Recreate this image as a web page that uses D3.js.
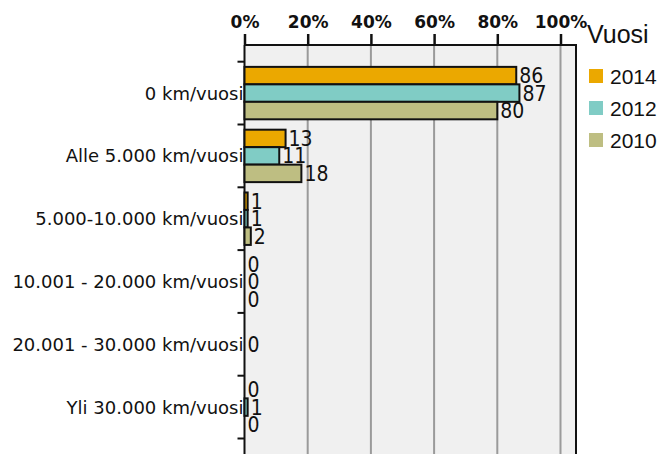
<!DOCTYPE html>
<html><head><meta charset="utf-8">
<script src="https://cdn.jsdelivr.net/npm/d3@7/dist/d3.min.js"></script>
<style>
html,body{margin:0;padding:0;background:#fff;}
svg{display:block;}
</style></head>
<body>
<svg id="chart" width="661" height="454"></svg>
<script>
const categories = ["0 km/vuosi","Alle 5.000 km/vuosi","5.000-10.000 km/vuosi","10.001 - 20.000 km/vuosi","20.001 - 30.000 km/vuosi","Yli 30.000 km/vuosi"];
const seriesNames = ["2014","2012","2010"];
const values2014 = [86, 13, 1, 0, null, 0];
const values2012 = [87, 11, 1, 0, 0, 1];
const values2010 = [80, 18, 2, 0, null, 0];
const tickValues = [0, 20, 40, 60, 80, 100];
const colors = ["#EBA800", "#80CCC5", "#BEBE82"];
const legendTitle = "Vuosi";

const series = [values2014, values2012, values2010];
const svg = d3.select("#chart");

const x = d3.scaleLinear().domain([0, 100]).range([244.5, 560.5]);
const plotRight = 576;
const plotTop = 46;
const y = d3.scaleBand().domain(categories).range([61.7, 438.5]).paddingInner(0.165).paddingOuter(0.0825);
const ySub = d3.scaleBand().domain(seriesNames).range([0, y.bandwidth()]);

// plot background
svg.append("rect").attr("x", x(0)).attr("y", plotTop).attr("width", plotRight - x(0)).attr("height", 460 - plotTop)
  .attr("fill", "#F0F0F0");

// grid lines
svg.append("g").selectAll("line").data(tickValues.filter(d => d > 0)).join("line")
  .attr("x1", d => x(d)).attr("x2", d => x(d)).attr("y1", plotTop).attr("y2", 460)
  .attr("stroke", "#9a9a9a").attr("stroke-width", 2);

// right border
svg.append("line").attr("x1", plotRight).attr("x2", plotRight).attr("y1", plotTop - 1).attr("y2", 460)
  .attr("stroke", "#111").attr("stroke-width", 2);

// top axis
const xAxis = d3.axisTop(x).tickValues(tickValues).tickFormat(d => d + "%").tickSize(11).tickSizeOuter(0);
const gx = svg.append("g").attr("transform", `translate(0,${plotTop - 1})`).call(xAxis);
gx.select(".domain").attr("d", `M${x(0)},0H${plotRight + 1}`).attr("stroke", "#111").attr("stroke-width", 2);
gx.selectAll(".tick line").attr("stroke", "#111").attr("stroke-width", 2.5);
gx.selectAll(".tick text").attr("font-family", "DejaVu Sans").attr("font-weight", "bold")
  .attr("font-size", 17).attr("fill", "#111").attr("dy", "0").attr("y", -17);

// left axis with boundary ticks
const boundaries = d3.range(categories.length + 1).map(i => y.range()[0] + i * y.step());
svg.append("g").selectAll("line").data(boundaries).join("line")
  .attr("x1", x(0) - 7).attr("x2", x(0)).attr("y1", d => d).attr("y2", d => d)
  .attr("stroke", "#111").attr("stroke-width", 2);
svg.append("line").attr("x1", x(0)).attr("x2", x(0)).attr("y1", plotTop - 1).attr("y2", 460)
  .attr("stroke", "#111").attr("stroke-width", 2);

// category labels
svg.append("g").selectAll("text").data(categories).join("text")
  .attr("x", 243.5).attr("y", d => y(d) + y.bandwidth() / 2)
  .attr("dy", "0.36em").attr("text-anchor", "end")
  .attr("font-family", "DejaVu Sans").attr("font-size", 18).attr("fill", "#111")
  .text(d => d);

// bars
const barData = [];
categories.forEach((c, i) => {
  series.forEach((s, j) => {
    if (s[i] !== null) barData.push({cat: c, ser: seriesNames[j], v: s[i], color: colors[j]});
  });
});
const gb = svg.append("g");
gb.selectAll("rect").data(barData).join("rect")
  .attr("x", x(0)).attr("y", d => y(d.cat) + ySub(d.ser))
  .attr("width", d => Math.max(0, x(d.v) - x(0))).attr("height", ySub.bandwidth())
  .attr("fill", d => d.color).attr("stroke", "#111").attr("stroke-width", 2);

gb.selectAll("text").data(barData).join("text")
  .attr("x", d => x(d.v) + 3).attr("y", d => y(d.cat) + ySub(d.ser) + ySub.bandwidth() / 2)
  .attr("dy", "0.36em")
  .attr("font-family", "DejaVu Sans Condensed").attr("font-size", 21).attr("fill", "#111")
  .text(d => d.v);

// legend
const lg = svg.append("g");
lg.append("text").attr("x", 587).attr("y", 43).attr("font-family", "Liberation Sans").attr("font-size", 25)
  .attr("fill", "#111").text(legendTitle);
const li = lg.selectAll("g.item").data(seriesNames).join("g").attr("class", "item")
  .attr("transform", (d, i) => `translate(589,${69 + i * 32})`);
li.append("rect").attr("width", 14).attr("height", 14).attr("fill", (d, i) => colors[i]);
li.append("text").attr("x", 21).attr("y", 14.5).attr("font-family", "Liberation Sans").attr("font-size", 21)
  .attr("fill", "#111").text(d => d);
</script>
</body></html>
